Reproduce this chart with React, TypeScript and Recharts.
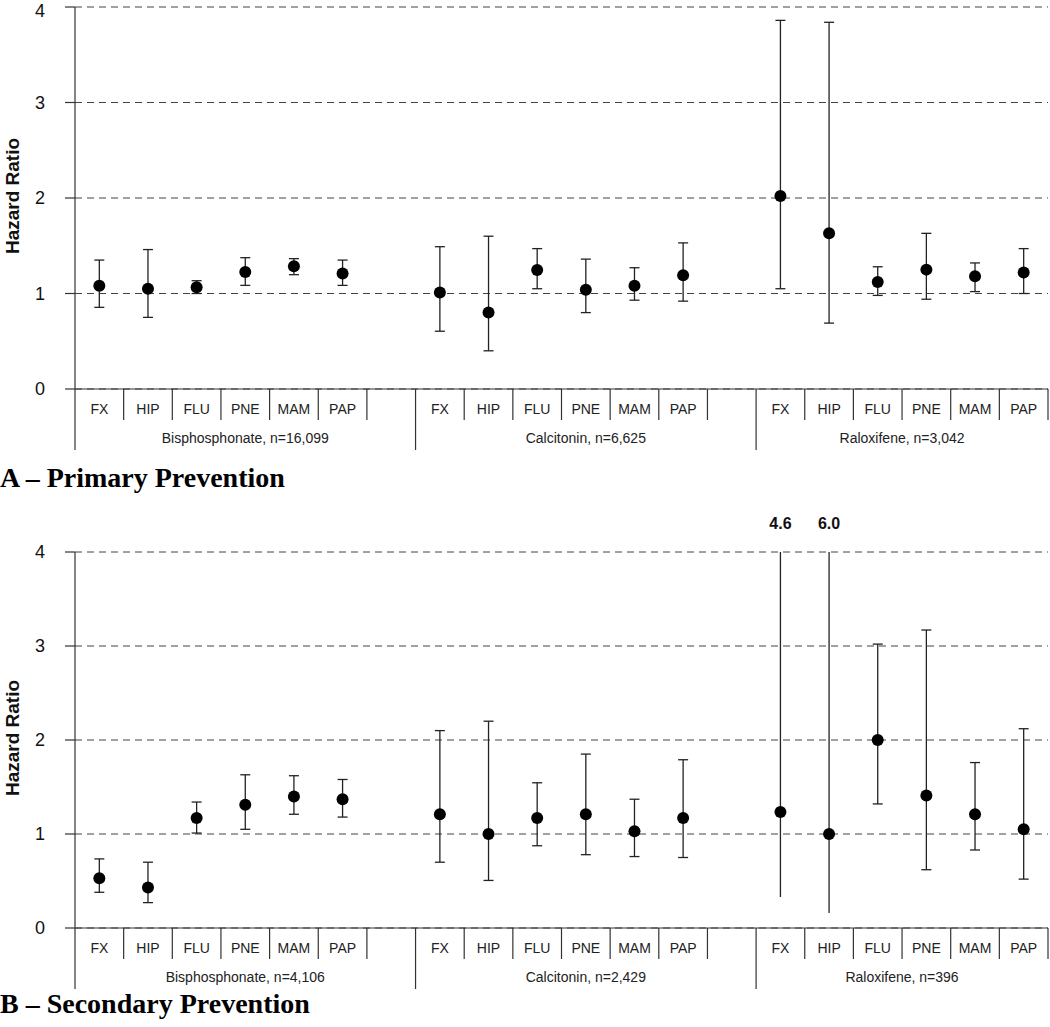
import React from 'react';
import { ComposedChart, Scatter, XAxis, YAxis, CartesianGrid, ErrorBar, ReferenceDot } from 'recharts';

// outcome categories shown under every drug group
const categories = ['FX', 'HIP', 'FLU', 'PNE', 'MAM', 'PAP'];

const groupsA = ['Bisphosphonate, n=16,099', 'Calcitonin, n=6,625', 'Raloxifene, n=3,042'];
const groupsB = ['Bisphosphonate, n=4,106', 'Calcitonin, n=2,429', 'Raloxifene, n=396'];

const yTicks = [0, 1, 2, 3, 4];

// A - primary prevention
const bisHrA = [1.08, 1.05, 1.065, 1.225, 1.285, 1.21];
const bisLoA = [0.855, 0.75, 1.0, 1.085, 1.197, 1.085];
const bisHiA = [1.35, 1.46, 1.134, 1.375, 1.365, 1.35];
const calHrA = [1.01, 0.8, 1.245, 1.04, 1.08, 1.19];
const calLoA = [0.605, 0.4, 1.05, 0.8, 0.93, 0.92];
const calHiA = [1.49, 1.6, 1.47, 1.36, 1.27, 1.53];
const ralHrA = [2.02, 1.63, 1.12, 1.25, 1.18, 1.22];
const ralLoA = [1.05, 0.69, 0.98, 0.94, 1.02, 1.0];
const ralHiA = [3.86, 3.84, 1.28, 1.63, 1.32, 1.47];

// B - secondary prevention
const bisHrB = [0.53, 0.43, 1.17, 1.31, 1.4, 1.37];
const bisLoB = [0.38, 0.27, 1.01, 1.05, 1.21, 1.18];
const bisHiB = [0.735, 0.7, 1.34, 1.63, 1.62, 1.58];
const calHrB = [1.21, 1.0, 1.17, 1.21, 1.03, 1.17];
const calLoB = [0.7, 0.506, 0.875, 0.78, 0.76, 0.75];
const calHiB = [2.1, 2.2, 1.545, 1.85, 1.37, 1.79];
const ralHrB = [1.234, 1.0, 2.0, 1.41, 1.21, 1.05];
const ralLoB = [0.33, 0.16, 1.32, 0.62, 0.83, 0.52];
const ralHiB = [4.6, 6.0, 3.02, 3.17, 1.76, 2.12];

const W = 1050;
const LEFT = 75;
const RIGHT = 2;
const SLOTS = 20;
const GROUP_SLOTS = 7;
const SLOT_W = (W - LEFT - RIGHT) / SLOTS;
const Y_MAX = 4;
const AXIS_H = 71;
const SANS = '"Liberation Sans", Arial, Helvetica, sans-serif';
const SERIF = '"Liberation Serif", "Times New Roman", serif';
const INK = '#222';

type Row = { hr: number[]; lo: number[]; hi: number[] };

// upper whisker is cut at the top of the axis; the real value is printed above it
const buildPoints = (rows: Row[]) => {
  const pts: any[] = [];
  rows.forEach((r, g) => {
    r.hr.forEach((v, c) => {
      const top = Math.min(r.hi[c], Y_MAX);
      pts.push({ x: g * GROUP_SLOTS + c + 0.5, hr: v, err: [v - r.lo[c], top - v], hi: r.hi[c] });
    });
  });
  return pts;
};

const slotTicks = Array.from({ length: SLOTS }, (_, i) => i + 0.5);

const SlotTick = (props: any) => {
  const { x, y, payload, groups } = props;
  const i = Math.floor(payload.value);
  const c = i % GROUP_SLOTS;
  const g = Math.floor(i / GROUP_SLOTS);
  const right = x + SLOT_W / 2;
  const left = x - SLOT_W / 2;
  const span = Math.min(GROUP_SLOTS, SLOTS - g * GROUP_SLOTS);
  return (
    <g>
      {i === 0 && <line x1={left} y1={y} x2={left} y2={y + 61} stroke="#333" strokeWidth={1.2} />}
      <line x1={right} y1={y} x2={right} y2={y + (c === GROUP_SLOTS - 1 ? 61 : 31)} stroke="#333" strokeWidth={1.2} />
      <text x={x} y={y + 20} textAnchor="middle" dominantBaseline="central" fontSize={14} fontFamily={SANS} fill={INK}>
        {categories[c] ?? ''}
      </text>
      {c === 0 && (
        <text x={left + (span * SLOT_W) / 2} y={y + 49} textAnchor="middle" dominantBaseline="central" fontSize={14} fontFamily={SANS} fill={INK}>
          {groups[g]}
        </text>
      )}
    </g>
  );
};

const hrLabel = (props: any) => {
  const vb = props.viewBox;
  const cy = vb.y + vb.height / 2 - 2;
  return (
    <text x={12} y={cy} transform={`rotate(-90 12 ${cy})`} textAnchor="middle" dominantBaseline="central" fontSize={19} fontWeight="bold" fontFamily={SANS} fill="#111">
      Hazard Ratio
    </text>
  );
};

const Dot = (p: any) => <circle cx={p.cx} cy={p.cy} r={6} fill="#000" />;

const Panel = ({ rows, groups, top, plotH }: { rows: Row[]; groups: string[]; top: number; plotH: number }) => {
  const points = buildPoints(rows);
  const inside = points.filter((p) => p.hi <= Y_MAX);
  const overflow = points.filter((p) => p.hi > Y_MAX);
  return (
    <ComposedChart width={W} height={top + plotH + AXIS_H} margin={{ top, right: RIGHT, left: 0, bottom: 0 }}>
      <CartesianGrid vertical={false} stroke="#444" strokeDasharray="7 5" />
      <XAxis
        type="number"
        dataKey="x"
        domain={[0, SLOTS]}
        ticks={slotTicks}
        interval={0}
        tickSize={0}
        tickMargin={0}
        height={AXIS_H}
        axisLine={{ stroke: '#333', strokeWidth: 1.2 }}
        tickLine={false}
        tick={(p: any) => <SlotTick {...p} groups={groups} />}
      />
      <YAxis
        type="number"
        domain={[0, Y_MAX]}
        ticks={yTicks}
        width={LEFT}
        tickSize={10}
        tickMargin={20}
        axisLine={{ stroke: '#333', strokeWidth: 1.2 }}
        tickLine={{ stroke: '#333', strokeWidth: 1.2 }}
        tick={{ fontSize: 18, fill: '#111', fontFamily: SANS }}
        label={hrLabel}
      />
      <Scatter data={inside} dataKey="hr" isAnimationActive={false} shape={Dot}>
        <ErrorBar dataKey="err" direction="y" width={5} stroke={INK} strokeWidth={1.3} isAnimationActive={false} />
      </Scatter>
      {overflow.length > 0 && (
        <Scatter data={overflow} dataKey="hr" isAnimationActive={false} shape={Dot}>
          <ErrorBar dataKey="err" direction="y" width={0} stroke={INK} strokeWidth={1.3} isAnimationActive={false} />
        </Scatter>
      )}
      {overflow.map((p) => (
        <ReferenceDot
          key={p.x}
          x={p.x}
          y={Y_MAX}
          r={0}
          fill="none"
          stroke="none"
          label={{ value: p.hi.toFixed(1), position: 'top', offset: 23, fontSize: 16, fontWeight: 'bold', fill: '#111', fontFamily: SANS }}
        />
      ))}
    </ComposedChart>
  );
};

const rowsA: Row[] = [
  { hr: bisHrA, lo: bisLoA, hi: bisHiA },
  { hr: calHrA, lo: calLoA, hi: calHiA },
  { hr: ralHrA, lo: ralLoA, hi: ralHiA },
];
const rowsB: Row[] = [
  { hr: bisHrB, lo: bisLoB, hi: bisHiB },
  { hr: calHrB, lo: calLoB, hi: calHiB },
  { hr: ralHrB, lo: ralLoB, hi: ralHiB },
];

const titleStyle: React.CSSProperties = {
  position: 'absolute',
  left: 0,
  fontFamily: SERIF,
  fontWeight: 'bold',
  fontSize: 28,
  lineHeight: '20px',
  color: '#000',
  whiteSpace: 'nowrap',
};

export default function App() {
  return (
    <div style={{ position: 'absolute', left: 0, top: 0, width: W, height: 1027, background: '#fff' }}>
      <div style={{ position: 'absolute', left: 0, top: 0 }}>
        <Panel rows={rowsA} groups={groupsA} top={7} plotH={382} />
      </div>
      <div style={{ ...titleStyle, top: 468 }}>A – Primary Prevention</div>
      <div style={{ position: 'absolute', left: 0, top: 500 }}>
        <Panel rows={rowsB} groups={groupsB} top={52} plotH={376} />
      </div>
      <div style={{ ...titleStyle, top: 994 }}>B – Secondary Prevention</div>
    </div>
  );
}
